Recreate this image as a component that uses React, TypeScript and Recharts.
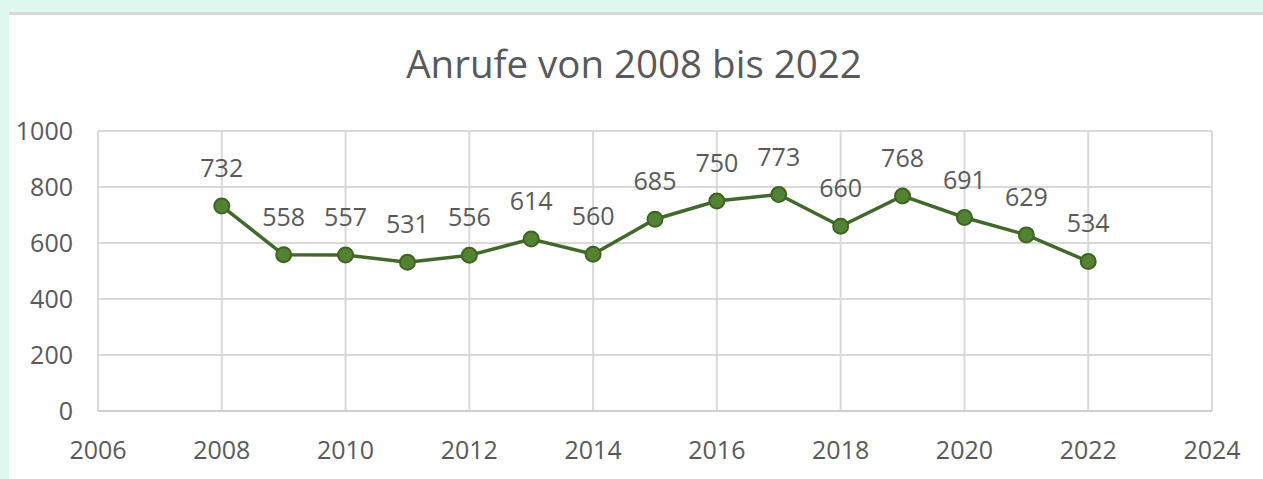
import React from "react";
import { LineChart, Line, XAxis, YAxis, CartesianGrid, LabelList } from "recharts";

const years = [2008, 2009, 2010, 2011, 2012, 2013, 2014, 2015, 2016, 2017, 2018, 2019, 2020, 2021, 2022];
const calls = [732, 558, 557, 531, 556, 614, 560, 685, 750, 773, 660, 768, 691, 629, 534];
const xTicks = [2006, 2008, 2010, 2012, 2014, 2016, 2018, 2020, 2022, 2024];
const yTicks = [0, 200, 400, 600, 800, 1000];
const title = "Anrufe von 2008 bis 2022";

const data = years.map((year, i) => ({ year, calls: calls[i] }));

const FONT = "'Open Sans', 'Noto Sans', sans-serif";
const TEXT = "#595959";
const GRID = "#d9d9d9";

export default function App() {
  return (
    <div style={{ position: "absolute", left: 0, top: 0, width: 1263, height: 479, background: "#dff9f1", overflow: "hidden" }}>
      <div style={{ position: "absolute", left: 9, top: 12, right: 0, bottom: 0, background: "#ffffff", borderTop: "3px solid #d9d9d9" }} />
      <svg width={1263} height={479} style={{ position: "absolute", left: 0, top: 0 }}>
        <text x={634} y={78} textAnchor="middle" fill={TEXT} fontFamily={FONT} fontSize={38.5}>{title}</text>
      </svg>
      <div style={{ position: "absolute", left: 0, top: 0 }}>
        <LineChart width={1263} height={479} data={data} margin={{ top: 131, right: 51, bottom: 38, left: 38 }}>
          <CartesianGrid stroke={GRID} strokeWidth={2} />
          <XAxis
            type="number"
            dataKey="year"
            domain={[2006, 2024]}
            ticks={xTicks}
            height={30}
            axisLine={{ stroke: "#cfcfcf", strokeWidth: 2 }}
            tickLine={false}
            tickSize={0}
            tickMargin={30}
            tick={{ fill: TEXT, fontSize: 25, fontFamily: FONT }}
            interval={0}
          />
          <YAxis
            type="number"
            domain={[0, 1000]}
            ticks={yTicks}
            width={60}
            axisLine={false}
            tickLine={false}
            tickSize={0}
            tickMargin={25}
            tick={{ fill: TEXT, fontSize: 25, fontFamily: FONT }}
            interval={0}
          />
          <Line
            type="linear"
            dataKey="calls"
            stroke="#43682b"
            strokeWidth={3.5}
            dot={{ r: 7.5, fill: "#548235", stroke: "#3f6321", strokeWidth: 2 }}
            activeDot={false}
            isAnimationActive={false}
          >
            <LabelList dataKey="calls" position="top" offset={29} fill={TEXT} fontSize={25} fontFamily={FONT} />
          </Line>
        </LineChart>
      </div>
    </div>
  );
}
